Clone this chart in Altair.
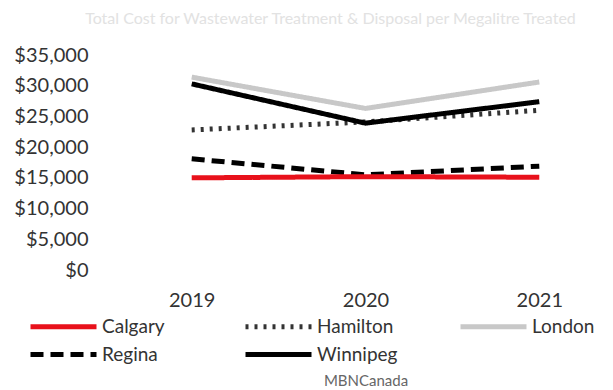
import altair as alt
import pandas as pd

years = ["2019", "2020", "2021"]
cities = ["Calgary", "Regina", "Hamilton", "Winnipeg", "London"]
calgary = [15000, 15200, 15100]
hamilton = [22800, 24100, 26000]
london = [31400, 26300, 30600]
regina = [18100, 15500, 16900]
winnipeg = [30300, 23900, 27400]

colors = ["#e8111b", "#000000", "#333333", "#000000", "#c8c8c8"]
dashes = [[1, 0], [13, 7], [3, 6], [1, 0], [1, 0]]
widths = [5, 5, 3.5, 5, 5]

series = {"Calgary": calgary, "Hamilton": hamilton, "London": london,
          "Regina": regina, "Winnipeg": winnipeg}
rows = []
for c in ["London", "Hamilton", "Regina", "Calgary", "Winnipeg"]:
    for y, v in zip(years, series[c]):
        rows.append({"Year": y, "City": c, "Cost": v})
df = pd.DataFrame(rows)

chart = alt.Chart(df).mark_line(strokeCap="butt").encode(
    x=alt.X("Year:O", scale=alt.Scale(padding=0.24),
            axis=alt.Axis(labelAngle=0, ticks=False, domain=False, labelPadding=20,
                          labelFontSize=20, labelFont="Lato", labelColor="#333333",
                          title="MBNCanada", titleFont="Lato", titleFontSize=15,
                          titleFontWeight="normal", titleColor="#666666",
                          titleY=110, titleBaseline="middle")),
    y=alt.Y("Cost:Q", scale=alt.Scale(domain=[0, 35000]),
            axis=alt.Axis(format="$,.0f", values=list(range(0, 35001, 5000)),
                          grid=False, ticks=False, domain=False, offset=57,
                          labelPadding=5, labelFontSize=20, labelFont="Lato",
                          labelColor="#333333", title=None)),
    color=alt.Color("City:N", scale=alt.Scale(domain=cities, range=colors),
                    legend=alt.Legend(title=None, orient="none", legendX=-122, legendY=258,
                                      columns=3, symbolType="M-1,0H5", symbolSize=484,
                                      symbolStrokeWidth=5, labelFontSize=19, labelFont="Lato",
                                      labelColor="#333333", columnPadding=52, rowPadding=4,
                                      labelOffset=47, gridAlign="all")),
    strokeDash=alt.StrokeDash("City:N", scale=alt.Scale(domain=cities, range=dashes), legend=None),
    strokeWidth=alt.StrokeWidth("City:N", scale=alt.Scale(domain=cities, range=widths), legend=None),
    order=alt.Order("Year:O"),
).properties(
    width=431, height=215,
    autosize=alt.AutoSizeParams(type="none"),
    padding={"left": 142, "top": 47, "right": 24, "bottom": 125},
    title=alt.TitleParams("Total Cost for Wastewater Treatment & Disposal per Megalitre Treated",
                          fontSize=16, font="Lato", fontWeight="normal", color="#e2e2e2",
                          offset=18, anchor="middle", frame="group", dx=-35),
).configure_view(stroke=None)

chart.save("out.html", embed_options={"renderer": "svg", "actions": False})
